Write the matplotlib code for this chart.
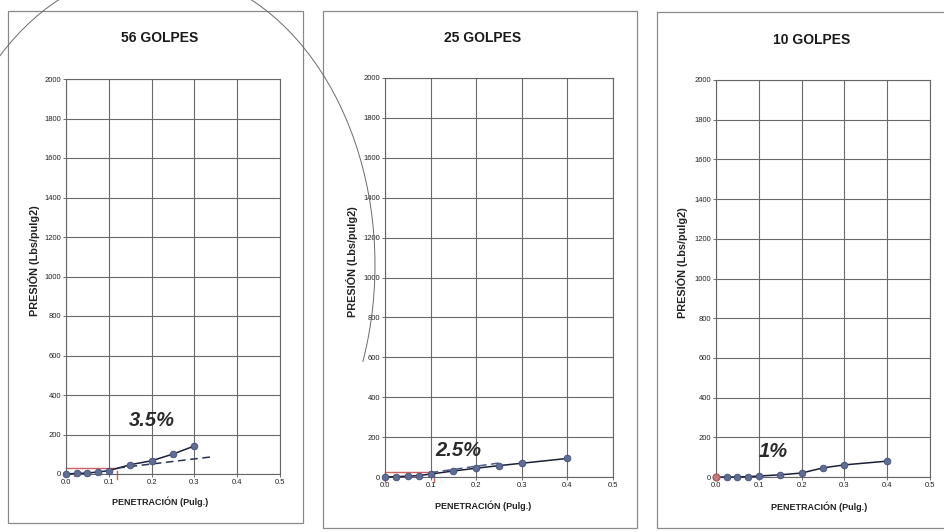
import matplotlib
matplotlib.use("Agg")
import matplotlib.pyplot as plt
from matplotlib.patches import Rectangle, Arc

plt.rcParams['font.family'] = ['Liberation Sans', 'DejaVu Sans']

W, H = 944, 532

# Penetration (in) and pressure (lb/in2) for each compaction level
pen_56 = [0.0, 0.025, 0.05, 0.075, 0.1, 0.15, 0.2, 0.25, 0.3]
pres_56 = [0, 3, 5, 10, 17, 47, 67, 101, 142]

pen_25 = [0.0, 0.025, 0.05, 0.075, 0.1, 0.15, 0.2, 0.25, 0.3, 0.4]
pres_25 = [0, 2, 4, 7, 15, 30, 44, 57, 69, 93]

pen_10 = [0.0, 0.025, 0.05, 0.075, 0.1, 0.15, 0.2, 0.25, 0.3, 0.4]
pres_10 = [0, 0, 0, 2, 5, 11, 20, 46, 61, 80]

# Corrected tangent lines (dashed)
tan_56_x = [0.12, 0.345]
tan_56_y = [30, 88]
tan_25_x = [0.1, 0.25]
tan_25_y = [22, 70]

# Red reference marks at 0.1"
red_56_h = ([0.0, 0.12], [30, 30])
red_56_v = ([0.12, 0.12], [-25, 15])
red_25_h = ([0.0, 0.11], [25, 25])
red_25_v = ([0.107, 0.107], [-25, 18])

titles = ["56 GOLPES", "25 GOLPES", "10 GOLPES"]
cbr_labels = ["3.5%", "2.5%", "1%"]
cbr_pos = [(0.2, 273), (0.16, 135), (0.133, 126)]

xticks = [0.0, 0.1, 0.2, 0.3, 0.4, 0.5]
yticks = list(range(0, 2001, 200))

fig = plt.figure(figsize=(W / 100, H / 100), dpi=100)
fig.patch.set_facecolor('white')


def px_axes(left, top, right, bottom):
    return fig.add_axes([left / W, (H - bottom) / H, (right - left) / W, (bottom - top) / H])


# Panel frames
frames = [(8, 11, 303, 523), (323, 11, 637, 528), (657, 12, 952, 528)]
bg = fig.add_axes([0, 0, 1, 1], zorder=0)
bg.set_xlim(0, W)
bg.set_ylim(H, 0)
bg.axis('off')
for (l, t, r, b) in frames:
    bg.add_patch(Rectangle((l, t), r - l, b - t, fill=False, ec='#8a8a8a', lw=0.9))

axes_px = [(66, 79, 280, 474), (385, 78, 613, 477), (716, 80, 930, 477)]
title_px = [(160, 38), (483, 38), (812, 40)]
ylab_x = [-0.12, -0.118, -0.13]
xlab_xy = [(0.44, -0.058), (0.43, -0.058), (0.48, -0.062)]

series = [(pen_56, pres_56), (pen_25, pres_25), (pen_10, pres_10)]

for i, (box, (px, py)) in enumerate(zip(axes_px, series)):
    ax = px_axes(*box)
    ax.set_zorder(2)
    ax.set_xlim(0, 0.5)
    ax.set_ylim(0, 2000)
    ax.set_xticks(xticks)
    ax.set_xticklabels([f"{v:.1f}" for v in xticks])
    ax.set_yticks(yticks)
    ax.tick_params(labelsize=5.5, length=2, width=0.6, color='#555555', pad=1.5, labelcolor='#222222')
    ax.grid(True, color='#6a6a6a', lw=0.8)
    ax.set_axisbelow(True)
    for s in ax.spines.values():
        s.set_color('#666666')
        s.set_linewidth(0.8)

    ax.plot(px, py, '-', color='#1b2038', lw=1.1, zorder=3, clip_on=False)
    ax.plot(px, py, 'o', ms=4.8, mfc='#5e6c96', mec='#44507a', mew=0.6, zorder=4, clip_on=False)

    ax.set_ylabel("PRESIÓN (Lbs/pulg2)", fontsize=7.8, fontweight='bold', color='#222222')
    ax.yaxis.set_label_coords(ylab_x[i], 0.54)
    ax.set_xlabel("PENETRACIÓN (Pulg.)", fontsize=6.5, fontweight='bold', color='#222222')
    ax.xaxis.set_label_coords(*xlab_xy[i])

    cx, cy = cbr_pos[i]
    ax.text(cx, cy, cbr_labels[i], fontsize=14.5, fontweight='bold', fontstyle='italic',
            color='#2a2a2a', ha='center', va='center', zorder=5)

    tx, ty = title_px[i]
    fig.text(tx / W, 1 - ty / H, titles[i], fontsize=10, fontweight='bold',
             color='#1a1a1a', ha='center', va='center')

    if i == 0:
        ax.plot(tan_56_x, tan_56_y, '--', color='#2a3350', lw=1.1, dashes=(5, 3), zorder=3)
        ax.plot(*red_56_h, color='#d06060', lw=1.0, zorder=2, clip_on=False)
        ax.plot(*red_56_v, color='#d06060', lw=1.0, zorder=2, clip_on=False)
        ax.plot([0.02, 0.032], [-12, 3], color='#d06060', lw=1.0, zorder=2, clip_on=False)
    elif i == 1:
        ax.plot(tan_25_x, tan_25_y, '--', color='#4a5a85', lw=1.1, dashes=(5, 3), zorder=3)
        ax.plot(*red_25_h, color='#d06060', lw=1.0, zorder=2, clip_on=False)
        ax.plot(*red_25_v, color='#d06060', lw=1.0, zorder=2, clip_on=False)
        ax.plot([0.0, 0.0], [-25, 20], color='#d06060', lw=1.0, zorder=2, clip_on=False)
    else:
        ax.plot([px[0]], [py[0]], 'o', ms=4.8, mfc='#c87a7a', mec='#b06060', zorder=5, clip_on=False)

# Pencil arc across the sheet
ov = fig.add_axes([0, 0, 1, 1], zorder=10)
ov.set_xlim(0, W)
ov.set_ylim(0, H)
ov.axis('off')
ov.patch.set_alpha(0)
ov.add_patch(Arc((155, H - 265), 440, 590, theta1=-25, theta2=150, color='#6a6a6a', lw=0.7))

fig.savefig("out.png", dpi=100)
